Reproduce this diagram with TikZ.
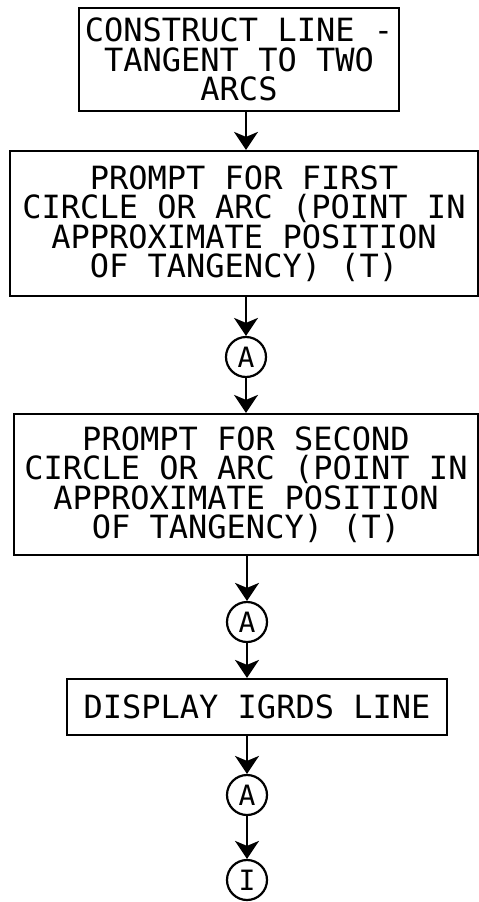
\documentclass[tikz,border=0pt]{standalone}
\usepackage{fontspec}
\setmonofont{DejaVu Sans Mono}
\usetikzlibrary{arrows.meta}
\tikzset{
  blocco/.style={draw,line width=2.2pt,inner sep=0pt,align=center,
    font=\ttfamily\fontsize{32}{29.5}\selectfont},
  conn/.style={draw,circle,line width=2.2pt,inner sep=0pt,minimum size=40pt,
    font=\ttfamily\fontsize{28}{28}\selectfont},
  freccia/.style={line width=2.2pt,-{Stealth[length=18pt,width=24pt,inset=5pt]}}
}
\begin{document}
\begin{tikzpicture}[x=1pt,y=-1pt]
        \useasboundingbox (0,0) rectangle (479,902);
        % blocchi
        \node [blocco,minimum width=320pt,minimum height=103pt] (b1) at (239,59.5) {CONSTRUCT LINE -\\TANGENT TO TWO\\ARCS};
        \node [blocco,minimum width=468pt,minimum height=145pt] (b2) at (244,223.5) {PROMPT FOR FIRST\\CIRCLE OR ARC (POINT IN\\APPROXIMATE POSITION\\OF TANGENCY) (T)};
        \node [conn] (a1) at (246,357) {A};
        \node [blocco,minimum width=464pt,minimum height=141pt] (b3) at (246,484.5) {PROMPT FOR SECOND\\CIRCLE OR ARC (POINT IN\\APPROXIMATE POSITION\\OF TANGENCY) (T)};
        \node [conn] (a2) at (247,622) {A};
        \node [blocco,minimum width=380pt,minimum height=56pt] (b4) at (257,707) {DISPLAY IGRDS LINE};
        \node [conn] (a3) at (247,795) {A};
        \node [conn] (i1) at (247,880) {I};
        % connettori
        \draw [freccia] (b1.south -| a1) -- (b2.north -| a1);
        \draw [freccia] (b2.south -| a1) -- (a1);
        \draw [freccia] (a1) -- (b3.north -| a1);
        \draw [freccia] (b3.south -| a2) -- (a2);
        \draw [freccia] (a2) -- (b4.north -| a2);
        \draw [freccia] (b4.south -| a3) -- (a3);
        \draw [freccia] (a3) -- (i1);
\end{tikzpicture}
\end{document}
